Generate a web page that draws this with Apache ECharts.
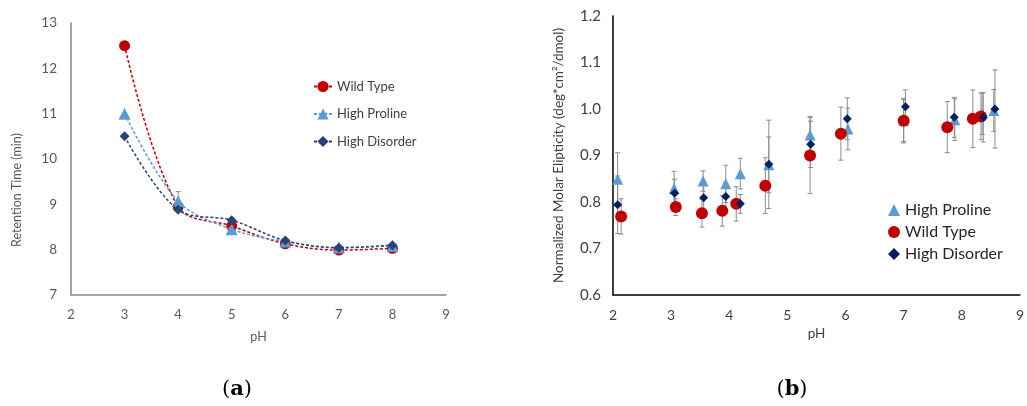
<!DOCTYPE html>
<html>
<head>
<meta charset="utf-8">
<script src="https://cdn.jsdelivr.net/npm/echarts@6/dist/echarts.min.js"></script>
<style>
html,body{margin:0;padding:0;background:#fff;}
#c{width:1027px;height:406px;}
</style>
</head>
<body>
<div id="c"></div>
<script>
// ---- Panel (a): retention time vs pH ----
const phA = [3, 4, 5, 6, 7, 8];
const rtWild = [12.5, 8.95, 8.52, 8.13, 7.99, 8.03];
const rtProline = [11.0, 9.07, 8.45, 8.18, 8.05, 8.08];
const rtProlineErr = [0, 0.21, 0, 0, 0, 0];
const rtDisorder = [10.5, 8.88, 8.65, 8.2, 8.04, 8.1];
const ticksA_x = [2, 3, 4, 5, 6, 7, 8, 9];
const ticksA_y = [7, 8, 9, 10, 11, 12, 13];

// ---- Panel (b): normalized molar ellipticity vs pH ----
const phProline = [2.08, 3.05, 3.55, 3.94, 4.19, 4.68, 5.39, 6.04, 7.0, 7.88, 8.35, 8.55];
const elProline = [0.849, 0.829, 0.845, 0.839, 0.861, 0.880, 0.944, 0.957, 0.975, 0.977, 0.990, 0.997];
const errProline = [0.057, 0.037, 0.022, 0.040, 0.033, 0.060, 0.040, 0.045, 0.045, 0.045, 0.045, 0.045];

const phWild = [2.14, 3.08, 3.53, 3.88, 4.12, 4.62, 5.39, 5.92, 7.0, 7.75, 8.19, 8.33];
const elWild = [0.769, 0.789, 0.776, 0.781, 0.796, 0.835, 0.900, 0.947, 0.975, 0.961, 0.979, 0.984];
const errWild = [0.038, 0.018, 0.030, 0.033, 0.037, 0.060, 0.082, 0.057, 0.048, 0.055, 0.062, 0.050];

const phDisorder = [2.08, 3.06, 3.56, 3.94, 4.19, 4.68, 5.40, 6.03, 7.03, 7.87, 8.37, 8.57];
const elDisorder = [0.794, 0.819, 0.809, 0.812, 0.796, 0.881, 0.924, 0.979, 1.005, 0.982, 0.982, 1.000];
const errDisorder = [0.062, 0.030, 0.030, 0.030, 0.020, 0.095, 0.050, 0.045, 0.036, 0.043, 0.053, 0.084];

const RED = '#C00000', LBLUE = '#5B9BD5', NAVY_A = '#264478', NAVY_B = '#002060';
const FONT = 'Lato, "Open Sans", sans-serif';

function zip(xs, ys) { return xs.map((x, i) => [x, ys[i]]); }
function zip3(xs, ys, es) { return xs.map((x, i) => [x, ys[i], es[i]]); }

function errRender(params, api) {
  const x = api.value(0), y = api.value(1), e = api.value(2);
  if (!e) return null;
  const top = api.coord([x, y + e]);
  const bot = api.coord([x, y - e]);
  const cw = 2.5;
  const st = { stroke: '#8c8c8c', lineWidth: 1 };
  return {
    type: 'group',
    children: [
      { type: 'line', shape: { x1: top[0], y1: top[1], x2: bot[0], y2: bot[1] }, style: st },
      { type: 'line', shape: { x1: top[0] - cw, y1: top[1], x2: top[0] + cw, y2: top[1] }, style: st },
      { type: 'line', shape: { x1: bot[0] - cw, y1: bot[1], x2: bot[0] + cw, y2: bot[1] }, style: st }
    ]
  };
}

const chart = echarts.init(document.getElementById('c'), null, { renderer: 'canvas' });

const lineDash = [3, 2];

const option = {
  animation: false,
  backgroundColor: '#fff',
  textStyle: { fontFamily: FONT },
  grid: [
    { left: 71, top: 23, width: 375, height: 272 },
    { left: 613, top: 16, width: 410, height: 279 }
  ],
  xAxis: [
    {
      gridIndex: 0, type: 'value', min: ticksA_x[0], max: ticksA_x[ticksA_x.length - 1], interval: 1,
      axisLine: { show: true, onZero: false, lineStyle: { color: '#868686', width: 1.5 } },
      axisTick: { show: false }, splitLine: { show: false },
      axisLabel: { color: '#595959', fontSize: 13, fontFamily: FONT, margin: 13 },
      name: 'pH', nameLocation: 'middle', nameGap: 35,
      nameTextStyle: { color: '#595959', fontSize: 12.5, fontFamily: FONT }
    },
    {
      gridIndex: 1, type: 'value', min: 2, max: 9, interval: 1,
      axisLine: { show: true, onZero: false, lineStyle: { color: '#000', width: 1.5 } },
      axisTick: { show: false }, splitLine: { show: false },
      axisLabel: { color: '#404040', fontSize: 14, fontFamily: FONT, margin: 13 },
      name: 'pH', nameLocation: 'middle', nameGap: 32,
      nameTextStyle: { color: '#404040', fontSize: 13.5, fontFamily: FONT }
    }
  ],
  yAxis: [
    {
      gridIndex: 0, type: 'value', min: ticksA_y[0], max: ticksA_y[ticksA_y.length - 1], interval: 1,
      axisLine: { show: true, onZero: false, lineStyle: { color: '#868686', width: 1.5 } },
      axisTick: { show: false }, splitLine: { show: false },
      axisLabel: { color: '#595959', fontSize: 13.5, fontFamily: FONT, margin: 14 }
    },
    {
      gridIndex: 1, type: 'value', min: 0.6, max: 1.2, interval: 0.1,
      axisLine: { show: true, onZero: false, lineStyle: { color: '#000', width: 1.5 } },
      axisTick: { show: false }, splitLine: { show: false },
      axisLabel: { color: '#404040', fontSize: 15, fontFamily: FONT, margin: 12,
        formatter: v => v.toFixed(1) },
      name: 'Normalized Molar Elipticity (deg*cm\u00B2/dmol)', nameLocation: 'middle', nameGap: 47,
      nameTextStyle: { color: '#404040', fontSize: 13.5, fontFamily: FONT }
    }
  ],
  legend: [
    {
      data: ['Wild Type', 'High Proline', 'High Disorder'],
      orient: 'vertical', left: 308, top: 75, itemWidth: 18, itemHeight: 14, itemGap: 14.5,
      textStyle: { color: '#404040', fontSize: 13, fontFamily: FONT },
      selectedMode: false
    },
    {
      data: ['High Proline ', 'Wild Type ', 'High Disorder '],
      orient: 'vertical', left: 883, top: 197, itemWidth: 12, itemHeight: 12, itemGap: 6,
      textStyle: { color: '#262626', fontSize: 16, fontFamily: FONT },
      formatter: n => n.trim(),
      selectedMode: false
    }
  ],
  graphic: [
    {
      type: 'text', x: 17, y: 190, rotation: Math.PI / 2,
      style: { text: 'Retention Time (min)', fill: '#595959', font: '12.5px ' + FONT,
        align: 'center', verticalAlign: 'middle' }
    },
    {
      type: 'text', x: 237, y: 390,
      style: {
        text: '{p|(}{b|a}{p|)}', align: 'center', verticalAlign: 'middle',
        rich: {
          p: { fontFamily: '"DejaVu Serif", serif', fontSize: 21, fill: '#000' },
          b: { fontFamily: '"DejaVu Serif", serif', fontSize: 21, fontWeight: 'bold', fill: '#000' }
        }
      }
    },
    {
      type: 'text', x: 792, y: 390,
      style: {
        text: '{p|(}{b|b}{p|)}', align: 'center', verticalAlign: 'middle',
        rich: {
          p: { fontFamily: '"DejaVu Serif", serif', fontSize: 21, fill: '#000' },
          b: { fontFamily: '"DejaVu Serif", serif', fontSize: 21, fontWeight: 'bold', fill: '#000' }
        }
      }
    }
  ],
  series: [
    // Panel (a)
    {
      type: 'custom', xAxisIndex: 0, yAxisIndex: 0, renderItem: errRender,
      data: zip3(phA, rtProline, rtProlineErr), z: 1, silent: true
    },
    {
      name: 'Wild Type', type: 'line', xAxisIndex: 0, yAxisIndex: 0, smooth: 0.35,
      data: zip(phA, rtWild), symbol: 'circle', symbolSize: 11,
      itemStyle: { color: RED }, lineStyle: { color: RED, width: 1.5, type: lineDash }, z: 3
    },
    {
      name: 'High Proline', type: 'line', xAxisIndex: 0, yAxisIndex: 0, smooth: 0.35,
      data: zip(phA, rtProline), symbol: 'triangle', symbolSize: 12,
      itemStyle: { color: LBLUE }, lineStyle: { color: LBLUE, width: 1.5, type: lineDash }, z: 4
    },
    {
      name: 'High Disorder', type: 'line', xAxisIndex: 0, yAxisIndex: 0, smooth: 0.35,
      data: zip(phA, rtDisorder), symbol: 'diamond', symbolSize: 10,
      itemStyle: { color: NAVY_A }, lineStyle: { color: NAVY_A, width: 1.5, type: lineDash }, z: 5
    },
    // Panel (b) error bars
    { type: 'custom', xAxisIndex: 1, yAxisIndex: 1, renderItem: errRender, data: zip3(phProline, elProline, errProline), z: 1, silent: true },
    { type: 'custom', xAxisIndex: 1, yAxisIndex: 1, renderItem: errRender, data: zip3(phWild, elWild, errWild), z: 1, silent: true },
    { type: 'custom', xAxisIndex: 1, yAxisIndex: 1, renderItem: errRender, data: zip3(phDisorder, elDisorder, errDisorder), z: 1, silent: true },
    // Panel (b) points
    {
      name: 'High Proline ', type: 'scatter', xAxisIndex: 1, yAxisIndex: 1,
      data: zip(phProline, elProline), symbol: 'triangle', symbolSize: 11,
      itemStyle: { color: LBLUE, opacity: 1 }, z: 3
    },
    {
      name: 'Wild Type ', type: 'scatter', xAxisIndex: 1, yAxisIndex: 1,
      data: zip(phWild, elWild), symbol: 'circle', symbolSize: 12,
      itemStyle: { color: RED, opacity: 1 }, z: 4
    },
    {
      name: 'High Disorder ', type: 'scatter', xAxisIndex: 1, yAxisIndex: 1,
      data: zip(phDisorder, elDisorder), symbol: 'diamond', symbolSize: 9,
      itemStyle: { color: NAVY_B, opacity: 1 }, z: 5
    }
  ]
};
chart.setOption(option);
</script>
</body>
</html>
